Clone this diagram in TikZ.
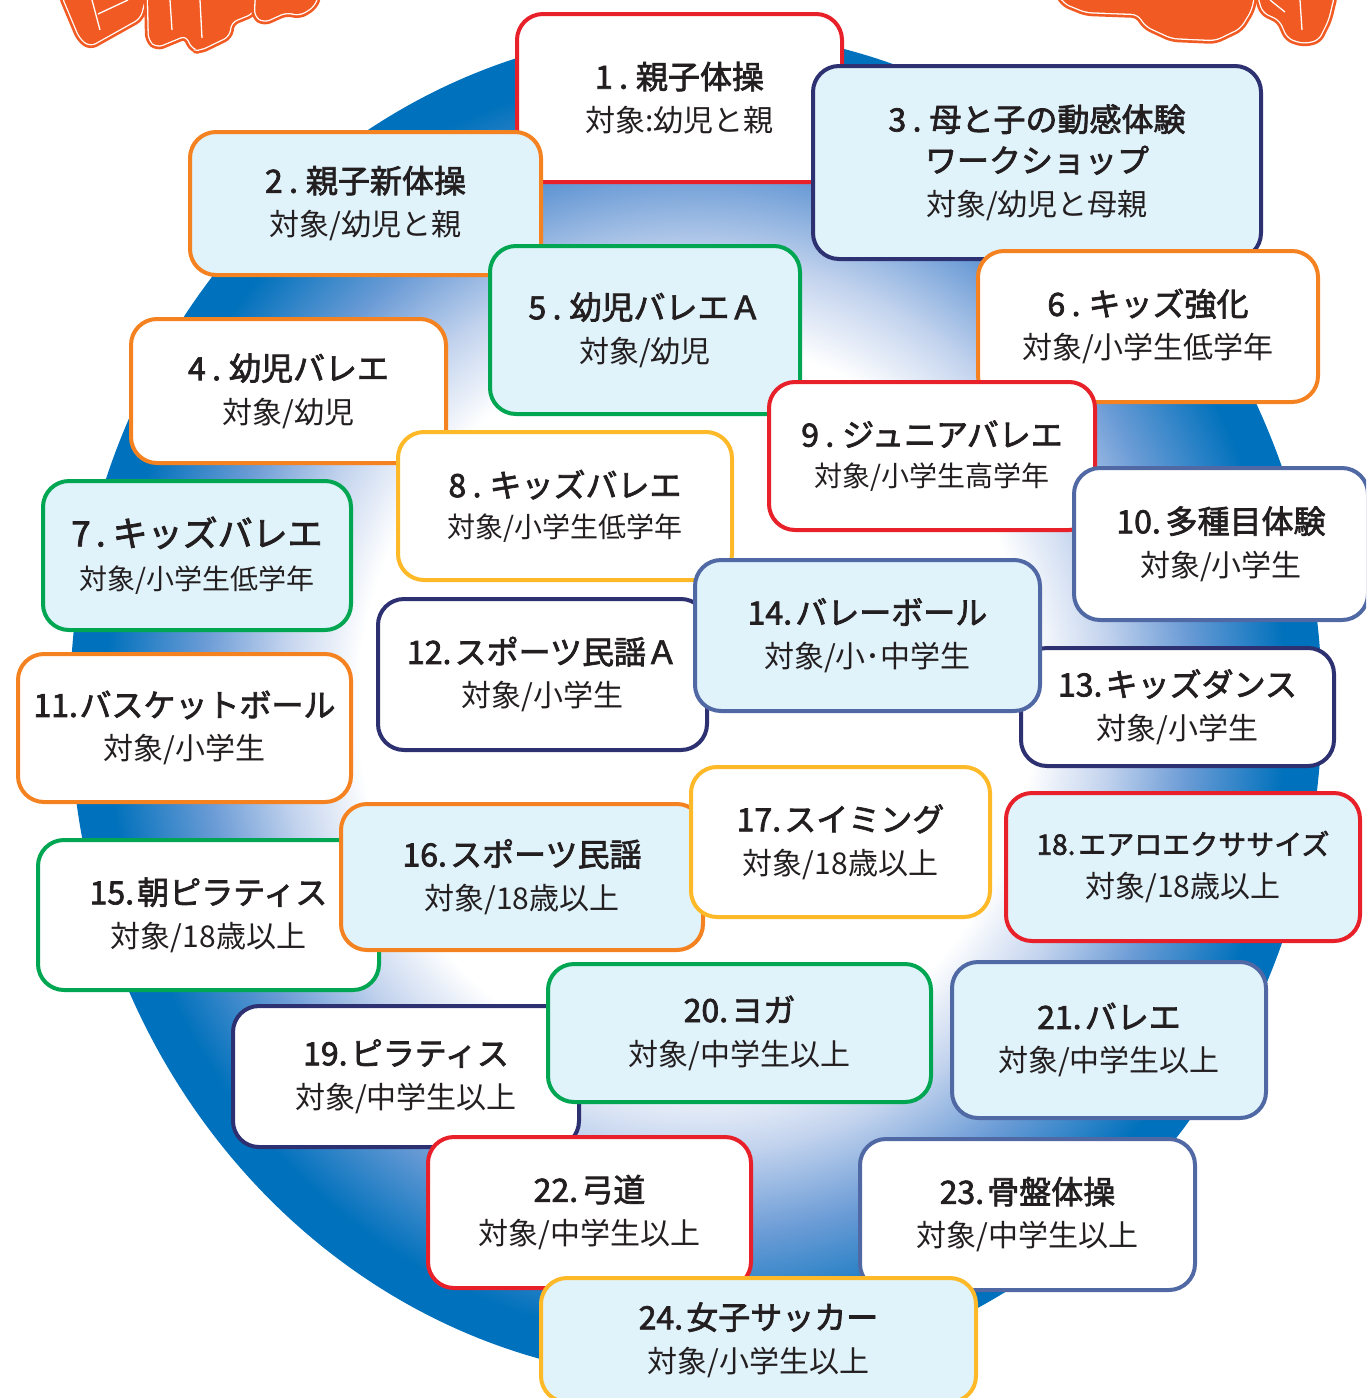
\documentclass[tikz,border=0pt]{standalone}
\usepackage{fontspec}
\newfontfamily\jp{Noto Sans CJK JP}
\newfontfamily\jpm[FakeBold=2.2]{Noto Sans CJK JP}
\definecolor{cred}{RGB}{232,32,42}
\definecolor{corange}{RGB}{245,130,32}
\definecolor{cgreen}{RGB}{0,166,81}
\definecolor{cyellow}{RGB}{253,185,40}
\definecolor{cnavy}{RGB}{46,49,113}
\definecolor{cbgray}{RGB}{80,105,165}
\definecolor{lbfill}{RGB}{224,242,250}
\definecolor{txt}{RGB}{35,31,32}
\definecolor{tangerine}{RGB}{241,90,34}
\definecolor{rblue}{RGB}{0,113,188}
\definecolor{rmid}{RGB}{108,156,214}
\definecolor{rlight}{RGB}{196,212,238}
\pgfdeclareradialshading{ringshade}{\pgfpoint{0bp}{0bp}}{color(0bp)=(white); color(13.5bp)=(white); color(16.5bp)=(rlight); color(19.7bp)=(rmid); color(23.6bp)=(rblue); color(50bp)=(rblue)}
\newcommand\ttl[2][32]{{\jpm\fontsize{#1}{43}\selectfont #2}}
\newcommand\sub[2][30]{{\fontsize{#1}{43}\selectfont #2}}
\tikzset{
  pbox/.style={rounded corners=26pt, line width=4pt, inner sep=0pt, align=center,
    text=txt, font=\jp\fontsize{30}{43}\selectfont},
  wbox/.style={pbox, fill=white},
  bbox/.style={pbox, fill=lbfill},
  frag/.style={rounded corners=6pt},
}
\begin{document}
\begin{tikzpicture}[x=1pt,y=-1pt]
\useasboundingbox (0,0) rectangle (1366,1398);
\clip (0,0) rectangle (1366,1398);
% background ring
\shade[shading=ringshade] (696,705) ellipse [x radius=626pt, y radius=675pt];
% orange title fragments (cut off at the top)
\foreach \p in {
  {(62,-5) -- (80,38) -- (90,46) -- (140,18) -- (146,-5) -- cycle},
  {(148,-5) -- (149,40) -- (157,47) -- (186,35) -- (193,49) -- (200,50) -- (229,36) -- (231,22) -- (253,13) -- (258,-5) -- cycle},
  {(256,-5) -- (255,16) -- (264,22) -- (286,12) -- (300,15) -- (314,6) -- (318,-5) -- cycle},
  {(1060,-5) -- (1064,3) -- (1086,12) -- (1138,14) -- (1146,26) -- (1172,38) -- (1215,40) -- (1240,28) -- (1251,10) -- (1254,-5) -- cycle},
  {(1258,-5) -- (1263,12) -- (1280,20) -- (1288,38) -- (1303,43) -- (1318,40) -- (1328,20) -- (1334,-5) -- cycle}
}{
  \draw[frag, tangerine, line width=8pt] \p;
  \draw[frag, white, line width=2.6pt] \p;
  \fill[frag, tangerine] \p;
}
\draw[white, line width=1.3pt] (92,0) -- (100,30) (98,14) -- (128,0);
\draw[white, line width=1.3pt] (170,0) -- (172,30) (200,0) -- (202,38);
\draw[white, line width=1.3pt] (1270,0) -- (1285,12) (1300,0) -- (1302,30);
% boxes
\node[wbox, draw=cred, minimum width=325pt, minimum height=168pt] (b1) at (679.5,98)
  {\ttl{1\hspace{.2em}.\hspace{.25em}親子体操}\\\sub{対象:幼児と親}};
\node[bbox, draw=corange, minimum width=351pt, minimum height=143pt] (b2) at (365.5,203.5)
  {\ttl{2\hspace{.2em}.\hspace{.25em}親子新体操}\\\sub{対象/幼児と親}};
\node[bbox, draw=cnavy, minimum width=448pt, minimum height=193pt] (b3) at (1037,162.5)
  {\ttl{3\hspace{.2em}.\hspace{.25em}母と子の動感体験}\\[-2pt]\ttl{ワークショップ}\\\sub{対象/幼児と母親}};
\node[wbox, draw=corange, minimum width=315pt, minimum height=144pt] (b4) at (288.5,391)
  {\ttl{4\hspace{.2em}.\hspace{.25em}幼児バレエ}\\\sub{対象/幼児}};
\node[bbox, draw=cgreen, minimum width=310pt, minimum height=168pt] (b5) at (645,330)
  {\ttl{5\hspace{.2em}.\hspace{.25em}幼児バレエＡ}\\\sub{対象/幼児}};
\node[wbox, draw=corange, minimum width=340pt, minimum height=151pt] (b6) at (1148,326.5)
  {\ttl{6\hspace{.2em}.\hspace{.25em}キッズ強化}\\\sub{対象/小学生低学年}};
\node[bbox, draw=cgreen, minimum width=308pt, minimum height=149pt] (b7) at (197,555.5)
  {\ttl[35]{7\hspace{.15em}.\hspace{.2em}キッズバレエ}\\\sub[28]{対象/小学生低学年}};
\node[wbox, draw=cyellow, minimum width=334pt, minimum height=148pt] (b8) at (565,506)
  {\ttl{8\hspace{.2em}.\hspace{.25em}キッズバレエ}\\[-3pt]\sub[28]{対象/小学生低学年}};
\node[wbox, draw=cred, minimum width=326pt, minimum height=148pt] (b9) at (932,456)
  {\ttl{9\hspace{.2em}.\hspace{.25em}ジュニアバレエ}\\[-3pt]\sub[28]{対象/小学生高学年}};
\node[wbox, draw=cbgray, minimum width=294pt, minimum height=152pt] (b10) at (1221,544)
  {\ttl{10.\hspace{.15em}多種目体験}\\\sub{対象/小学生}};
\node[wbox, draw=corange, minimum width=333pt, minimum height=148pt] (b11) at (184.5,728)
  {\ttl{11.\hspace{.05em}バスケットボール}\\\sub{対象/小学生}};
\node[wbox, draw=cnavy, minimum width=329pt, minimum height=151pt] (b12) at (542.5,674.5)
  {\ttl{12.\hspace{.1em}スポーツ民謡Ａ}\\\sub{対象/小学生}};
\node[wbox, draw=cnavy, minimum width=313pt, minimum height=118pt] (b13) at (1177.5,707)
  {\ttl{13.\hspace{.1em}キッズダンス}\\\sub{対象/小学生}};
\node[bbox, draw=cbgray, minimum width=345pt, minimum height=151pt] (b14) at (867.5,635.5)
  {\ttl{14.\hspace{.1em}バレーボール}\\\sub{対象/小･中学生}};
\node[wbox, draw=cgreen, minimum width=341pt, minimum height=150pt] (b15) at (208.5,915)
  {\ttl{15.\hspace{.1em}朝ピラティス}\\\sub{対象/18歳以上}};
\node[bbox, draw=corange, minimum width=362pt, minimum height=146pt] (b16) at (522,877)
  {\ttl{16.\hspace{.1em}スポーツ民謡}\\\sub{対象/18歳以上}};
\node[wbox, draw=cyellow, minimum width=299pt, minimum height=150pt] (b17) at (840.5,842)
  {\ttl{17.\hspace{.1em}スイミング}\\\sub{対象/18歳以上}};
\node[bbox, draw=cred, minimum width=354pt, minimum height=148pt] (b18) at (1183,867)
  {\ttl[28]{18.\hspace{.1em}エアロエクササイズ}\\\sub{対象/18歳以上}};
\node[wbox, draw=cnavy, minimum width=346pt, minimum height=141pt] (b19) at (406,1076.5)
  {\ttl{19.\hspace{.1em}ピラティス}\\\sub{対象/中学生以上}};
\node[bbox, draw=cgreen, minimum width=383pt, minimum height=138pt] (b20) at (739.5,1033)
  {\ttl{20.\hspace{.1em}ヨガ}\\\sub{対象/中学生以上}};
\node[bbox, draw=cbgray, minimum width=314pt, minimum height=156pt] (b21) at (1109,1040)
  {\ttl{21.\hspace{.1em}バレエ}\\\sub{対象/中学生以上}};
\node[wbox, draw=cred, minimum width=323pt, minimum height=151pt] (b22) at (589.5,1212.5)
  {\ttl{22.\hspace{.1em}弓道}\\\sub{対象/中学生以上}};
\node[wbox, draw=cbgray, minimum width=335pt, minimum height=151pt] (b23) at (1027.5,1214.5)
  {\ttl{23.\hspace{.1em}骨盤体操}\\\sub{対象/中学生以上}};
\node[bbox, draw=cyellow, minimum width=435pt, minimum height=124pt] (b24) at (758.5,1340)
  {\ttl{24.\hspace{.1em}女子サッカー}\\\sub{対象/小学生以上}};
\end{tikzpicture}
\end{document}
